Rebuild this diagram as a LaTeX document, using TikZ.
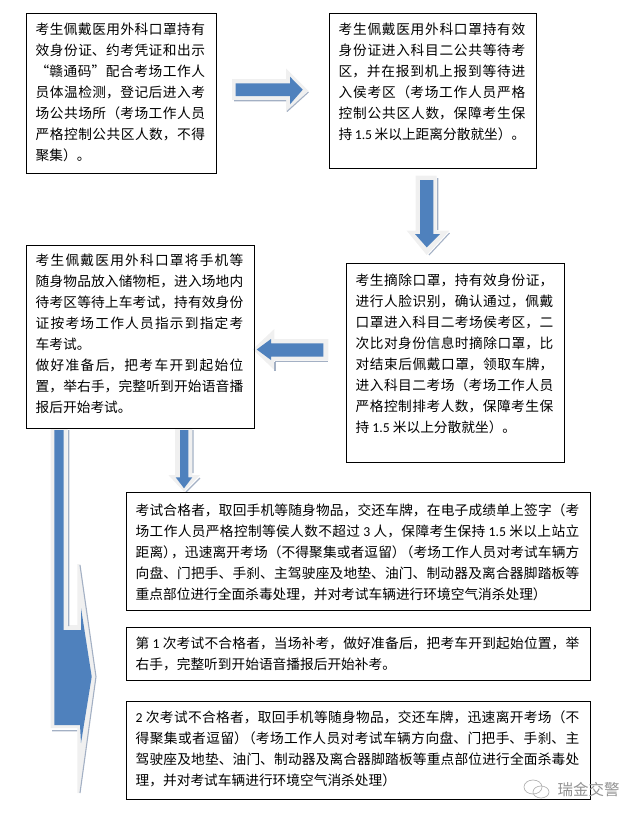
\documentclass[tikz,border=0pt]{standalone}
\usepackage{fontspec}
\setmainfont{Noto Sans CJK SC}
\newfontfamily\numfont{Carlito}
\usetikzlibrary{calc, positioning}
\XeTeXlinebreaklocale "zh"
\XeTeXlinebreakskip=0pt plus 2pt
\tolerance=9999
\hbadness=10000
\hfuzz=2pt
\definecolor{arrowface}{HTML}{4F81BD}
\definecolor{arrowbevel}{HTML}{F0F0F0}
\definecolor{arrowshade}{HTML}{A3B0C4}
\newcommand{\digits}[1]{{\numfont #1}}
\newcommand{\tightp}{\kern-0.42em}
\tikzset{
  flowbox/.style={draw=black,line width=0.9pt,inner sep=0pt,outer sep=0pt,anchor=north west},
  flowtext/.style={inner sep=0pt,outer sep=0pt,anchor=north west,align=justify,
    font=\fontsize{13.7}{21}\selectfont},
  bevel/.style={fill=arrowbevel},
  face/.style={fill=arrowface},
  shade line/.style={draw=arrowshade,line width=1.1pt}
}

\begin{document}
\begin{tikzpicture}[x=1pt,y=-1pt]
\useasboundingbox (0,0) rectangle (640,817);

% right arrow
\fill[bevel] (232,79) -- (286,79) -- (286,68.3) -- (308.3,90.7) -- (286,112.3) -- (286,100) -- (232,100) -- cycle;
\fill[face] (235.7,83.3) -- (290,83.3) -- (290,76.7) -- (302.7,89.7) -- (290,104.3) -- (290,96) -- (235.7,96) -- cycle;
\draw[shade line] (234,100.7) -- (286,100.7) (287,111.5) -- (308.5,92);

% down arrow
\fill[bevel] (415.7,175.7) -- (436.7,175.7) -- (436.7,230.7) -- (449.3,230.7) -- (426.7,255) -- (406.7,230.7) -- (415.7,230.7) -- cycle;
\fill[face] (420,180) -- (433.3,180) -- (433.3,234) -- (440,234) -- (426.7,247.3) -- (415,234) -- (420,234) -- cycle;
\draw[shade line] (437.7,178) -- (437.7,230) (449.5,233) -- (429,255);

% left arrow
\fill[bevel] (252.7,349.3) -- (274.3,329) -- (274.3,339) -- (328.3,339) -- (328.3,360.7) -- (274.3,360.7) -- (274.3,370) -- cycle;
\fill[face] (256.7,349.5) -- (271,339) -- (271,343.3) -- (323.3,343.3) -- (323.3,356.7) -- (271,356.7) -- (271,360) -- cycle;
\draw[shade line] (275,361.7) -- (328,361.7) (275,362) -- (275,371);

% short down arrow
\fill[bevel] (175,428) -- (192.3,428) -- (192.3,475) -- (200,475) -- (184,491.7) -- (168.3,475) -- (175,475) -- cycle;
\fill[face] (180,430) -- (188.3,430) -- (188.3,477.3) -- (192.3,477.3) -- (184,488.3) -- (175.7,477.3) -- (180,477.3) -- cycle;
\draw[shade line] (193,430) -- (193,473) (200,478) -- (186,492);

% long bent arrow
\fill[bevel] (50.7,428) -- (67.7,428) -- (67.7,625) -- (77.3,625) -- (77.3,564) -- (80,564) -- (96,676.7) -- (80,793) -- (77.3,793) -- (77.3,728) -- (50.7,728) -- cycle;
\fill[face] (54.3,430) -- (63.7,430) -- (63.7,630) -- (81,630) -- (81,608) -- (91.7,676.7) -- (81,743) -- (80,725) -- (54.3,725) -- cycle;
\draw[shade line] (68.7,430) -- (68.7,626) (52,730.7) -- (77,730.7) (80,565) -- (96,676.7) -- (80,793);

\node[flowbox,minimum width=190.4,minimum height=160] (boxone) at (26.3,13.3) {};
\node[flowbox,minimum width=207.4,minimum height=155] (boxtwo) at (329.3,13.3) {};
\node[flowbox,minimum width=228.4,minimum height=183.3] (boxthree) at (26.3,245) {};
\node[flowbox,minimum width=218,minimum height=199] (boxfour) at (346.3,263.3) {};
\node[flowbox,minimum width=464.4,minimum height=117.7] (boxfive) at (126.3,492.3) {};
\node[flowbox,minimum width=464.4,minimum height=53] (boxsix) at (126.3,627.3) {};
\node[flowbox,minimum width=464.4,minimum height=98] (boxseven) at (126.3,701.3) {};

\node[flowtext,text width=169.3] (textone) at ($(boxone.north west)+(9.4,6.2)$) {\strut
考生佩戴医用外科口罩持有\linebreak
效身份证、约考凭证和出示\linebreak
“赣通码”配合考场工作人\linebreak
员体温检测，登记后进入考\linebreak
场公共场所（考场工作人员\linebreak
严格控制公共区人数，不得\linebreak
聚集）。};
\node[flowtext,text width=186.6] (texttwo) at ($(boxtwo.north west)+(9.4,6.2)$) {\strut
考生佩戴医用外科口罩持有效\linebreak
身份证进入科目二公共等待考\linebreak
区，并在报到机上报到等待进\linebreak
入侯考区（考场工作人员严格\linebreak
控制公共区人数，保障考生保\linebreak
持 \digits{1.5} 米以上距离分散就坐）。};
\node[flowtext,text width=207.6] (textthree) at ($(boxthree.north west)+(9.4,5.5)$) {\strut
考生佩戴医用外科口罩将手机等\linebreak
随身物品放入储物柜，进入场地内\linebreak
待考区等待上车考试，持有效身份\linebreak
证按考场工作人员指示到指定考\linebreak
车考试。\par
\strut 做好准备后，把考车开到起始位\linebreak
置，举右手，完整听到开始语音播\linebreak
报后开始考试。};
\node[flowtext,text width=197.6] (textfour) at ($(boxfour.north west)+(9.4,7.2)$) {\strut
考生摘除口罩，持有效身份证，\linebreak
进行人脸识别，确认通过，佩戴\linebreak
口罩进入科目二考场侯考区，二\linebreak
次比对身份信息时摘除口罩，比\linebreak
对结束后佩戴口罩，领取车牌，\linebreak
进入科目二考场（考场工作人员\linebreak
严格控制排考人数，保障考生保\linebreak
持 \digits{1.5} 米以上分散就坐）。};
\node[flowtext,text width=443.6] (textfive) at ($(boxfive.north west)+(9.4,8.2)$) {\strut
考试合格者，取回手机等随身物品，交还车牌，在电子成绩单上签字（考\linebreak
场工作人员严格控制等侯人数不超过 \digits{3} 人，保障考生保持 \digits{1.5} 米以上站立\linebreak
距离）\tightp，迅速离开考场（不得聚集或者逗留）\tightp（考场工作人员对考试车辆方\linebreak
向盘、门把手、手刹、主驾驶座及地垫、油门、制动器及离合器脚踏板等\linebreak
重点部位进行全面杀毒处理，并对考试车辆进行环境空气消杀处理）};
\node[flowtext,text width=443.6] (textsix) at ($(boxsix.north west)+(9.4,6.5)$) {\strut
第 \digits{1} 次考试不合格者，当场补考，做好准备后，把考车开到起始位置，举\linebreak
右手，完整听到开始语音播报后开始补考。};
\node[flowtext,text width=443.6] (textseven) at ($(boxseven.north west)+(9.4,6.9)$) {\strut
\digits{2} 次考试不合格者，取回手机等随身物品，交还车牌，迅速离开考场（不\linebreak
得聚集或者逗留）\tightp（考场工作人员对考试车辆方向盘、门把手、手刹、主\linebreak
驾驶座及地垫、油门、制动器及离合器脚踏板等重点部位进行全面杀毒处\linebreak
理，并对考试车辆进行环境空气消杀处理）};

% watermark
\draw[gray!60,line width=0.7pt] (533,787) ellipse (9 and 7) (541,792) ellipse (8 and 6);
\node[inner sep=0pt,text=gray!85,font=\fontsize{15.5}{18}\selectfont] (mark) at (588.5,790) {瑞金交警};
\end{tikzpicture}
\end{document}
